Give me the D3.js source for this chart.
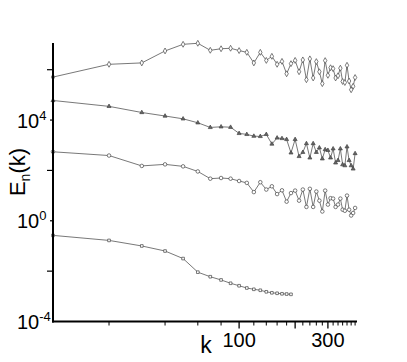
<!DOCTYPE html>
<html><head><meta charset="utf-8">
<script src="https://cdn.jsdelivr.net/npm/d3@7"></script>
<style>body{margin:0;background:#fff}svg{display:block}text{font-family:"Liberation Sans",Arial,sans-serif;fill:#000}</style>
</head><body><svg id="c" width="407" height="362"></svg>
<script>
const kFull = [10,20,30,40,50,60,70,80,90,100,110,120,130,140,150,160,170,180,190,200,210,220,230,240,250,260,270,280,290,300,310,320,330,340,350,360,370,380,390,400,410,420];
const kShort = [10,20,30,40,50,60,70,80,90,100,110,120,130,140,150,160,170,180,190];
const diamonds = [5.1e5,1.64e6,1.86e6,5.56e6,1.02e7,1.12e7,5.9e6,6.8e6,7.1e6,5.75e6,4.9e6,1.86e6,4.9e6,2.34e6,3.4e6,1.64e6,2.14e6,6.9e5,1.74e6,2.34e6,8.3e5,2.45e6,4.0e5,2.7e6,4.7e5,2.1e6,8.3e5,2.8e5,2.3e6,6.0e5,1.2e6,1.1e6,4.7e5,5.75e5,1.15e6,3.4e5,3.1e5,1.5e6,3.55e5,1.6e5,2.2e5,4.9e5];
const triangles = [6.0e4,3.5e4,2.0e4,1.45e4,1.12e4,7.8e3,5.1e3,5.4e3,5.2e3,2.95e3,2.7e3,2.3e3,2.24e3,2.7e3,1.12e3,1.95e3,1.86e3,1.7e3,500,1.7e3,360,525,1.17e3,316,1.17e3,525,795,290,675,630,316,725,200,250,725,170,155,870,250,155,115,470];
const circles = [550,390,151,174,145,91,47,50,47,38,32,13.8,34,17.4,23.4,11.5,16.2,5.75,12.6,15.8,6.3,17.4,3.55,18.6,3.55,14.5,6.3,2.34,15.8,4.4,7.9,7.6,3.55,4.4,7.6,2.75,2.5,10,2.75,1.62,2.04,3.24];
const squares = [0.263,0.166,0.1,0.063,0.0316,0.0091,0.006,0.00447,0.0033,0.00263,0.00214,0.0019,0.00174,0.00151,0.00138,0.00132,0.00126,0.00123,0.0012];
const yTickExps = [-4,-2,0,2,4,6];
const yLabelExps = [-4,0,4];
const xMinorTicks = [20,40,60,80,120,140,160,180,220,240,260,280,320,340,360,380,400,420];
const xMajorTicks = [100,200,300];
const xLabels = [100,300];

const svg = d3.select("#c");
const x = d3.scaleLog().domain([10,430]).range([53,357]);
const y = d3.scaleLog().domain([1e-4,1.15e7]).range([321.5,43]);

const series = [
  {k:kFull, v:diamonds, sym:d3.symbolDiamond, size:10, fill:"#fff"},
  {k:kFull, v:triangles, sym:d3.symbolTriangle, size:7, fill:"#666"},
  {k:kFull, v:circles, sym:d3.symbolCircle, size:10, fill:"#fff"},
  {k:kShort, v:squares, sym:d3.symbolSquare, size:7, fill:"#fff"}
];
const line = d3.line().x(d=>x(d[0])).y(d=>y(d[1]));
series.forEach(s=>{
  const pts = s.k.map((k,i)=>[k,s.v[i]]);
  svg.append("path").attr("d",line(pts)).attr("fill","none").attr("stroke","#555").attr("stroke-width",0.8);
  svg.append("g").selectAll("path").data(pts).join("path")
    .attr("transform",d=>`translate(${x(d[0])},${y(d[1])})`)
    .attr("d",d3.symbol().type(s.sym).size(s.size))
    .attr("fill",s.fill).attr("stroke","#444").attr("stroke-width",0.7);
});

// axes
svg.append("line").attr("x1",x(10)).attr("x2",x(10)).attr("y1",43).attr("y2",y(1e-4)+1).attr("stroke","#000").attr("stroke-width",2);
svg.append("line").attr("x1",x(10)-1).attr("x2",357).attr("y1",y(1e-4)).attr("y2",y(1e-4)).attr("stroke","#000").attr("stroke-width",2);
// y ticks
yTickExps.forEach(e=>{
  const len = yLabelExps.includes(e) ? 3 : 6;
  if (e===-4) return;
  svg.append("line").attr("x1",x(10)-len).attr("x2",x(10)).attr("y1",y(Math.pow(10,e))).attr("y2",y(Math.pow(10,e))).attr("stroke","#000").attr("stroke-width",1.2);
});
yLabelExps.forEach(e=>{
  const t = svg.append("text").attr("x",17).attr("y",y(Math.pow(10,e))+7.5).attr("font-size",20);
  t.append("tspan").text("10");
  t.append("tspan").attr("dy",-8).attr("font-size",13).text(String(e));
});
// x ticks
xMinorTicks.forEach(k=>{
  svg.append("line").attr("x1",x(k)).attr("x2",x(k)).attr("y1",y(1e-4)).attr("y2",y(1e-4)+4).attr("stroke","#000").attr("stroke-width",1);
});
xMajorTicks.forEach(k=>{
  svg.append("line").attr("x1",x(k)).attr("x2",x(k)).attr("y1",y(1e-4)).attr("y2",y(1e-4)+7).attr("stroke","#000").attr("stroke-width",1.3);
});
xLabels.forEach(k=>{
  svg.append("text").attr("x",x(k)).attr("y",347).attr("text-anchor","middle").attr("font-size",20).text(String(k));
});
svg.append("text").attr("x",206).attr("y",353).attr("text-anchor","middle").attr("font-size",23).text("k");
const yl = svg.append("text").attr("transform","translate(25,172) rotate(-90)").attr("text-anchor","middle").attr("font-size",22);
yl.append("tspan").text("E");
yl.append("tspan").attr("font-size",14).attr("dy",5).text("n");
yl.append("tspan").attr("dy",-5).text("(k)");
</script></body></html>
